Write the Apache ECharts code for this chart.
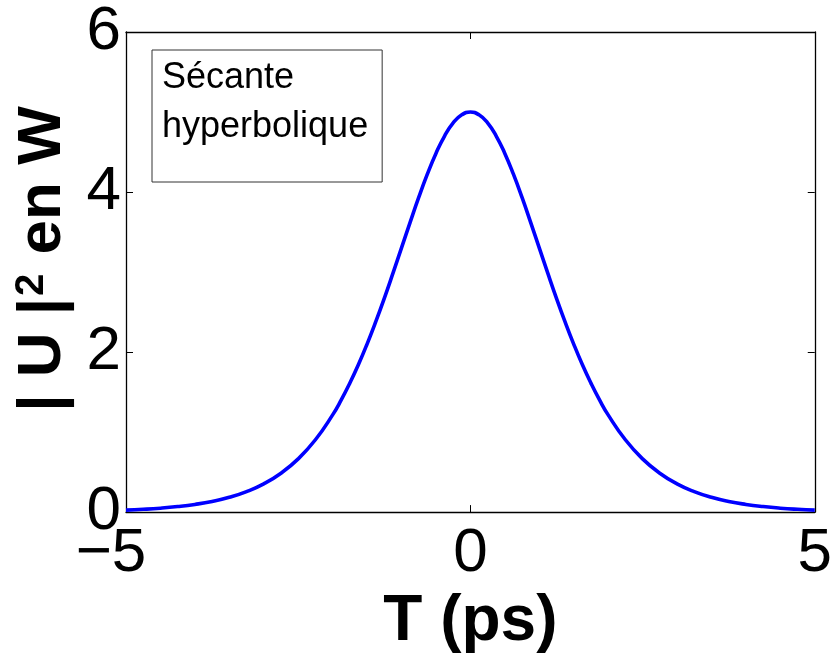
<!DOCTYPE html>
<html>
<head>
<meta charset="utf-8">
<script src="https://cdn.jsdelivr.net/npm/echarts@6/dist/echarts.min.js"></script>
<style>
html,body{margin:0;padding:0;background:#fff;overflow:hidden;}
#main{width:835px;height:659px;}
</style>
</head>
<body>
<div id="main"></div>
<script>
// Data
const timeValues = [-5, -4.75, -4.5, -4.25, -4, -3.75, -3.5, -3.25, -3, -2.75, -2.5, -2.25,
  -2, -1.875, -1.75, -1.625, -1.5, -1.375, -1.25, -1.125, -1, -0.875, -0.75, -0.625, -0.5, -0.375, -0.25, -0.125,
  0, 0.125, 0.25, 0.375, 0.5, 0.625, 0.75, 0.875, 1, 1.125, 1.25, 1.375, 1.5, 1.625, 1.75, 1.875, 2,
  2.25, 2.5, 2.75, 3, 3.25, 3.5, 3.75, 4, 4.25, 4.5, 4.75, 5];
const powerValues = [0.025, 0.035, 0.049, 0.069, 0.096, 0.133, 0.185, 0.256, 0.353, 0.486, 0.665, 0.904,
  1.215, 1.402, 1.612, 1.844, 2.100, 2.377, 2.672, 2.983, 3.302, 3.621, 3.932, 4.223, 4.483, 4.700, 4.864, 4.965,
  5.000, 4.965, 4.864, 4.700, 4.483, 4.223, 3.932, 3.621, 3.302, 2.983, 2.672, 2.377, 2.100, 1.844, 1.612, 1.402, 1.215,
  0.904, 0.665, 0.486, 0.353, 0.256, 0.185, 0.133, 0.096, 0.069, 0.049, 0.035, 0.025];
const xTickLabels = [-5, 0, 5];
const yTickLabels = [0, 2, 4, 6];
const seriesName = 'Sécante hyperbolique';

const chart = echarts.init(document.getElementById('main'), null, {renderer: 'canvas', width: 835, height: 659});
const tickFont = 'Liberation Sans, Arial, sans-serif';
const titleFont = 'Liberation Sans, Arial, sans-serif';

const data = timeValues.map((t, i) => [t, powerValues[i]]);

const xBase = {
  type: 'value', min: xTickLabels[0], max: xTickLabels[xTickLabels.length - 1], interval: 5,
  axisLine: {show: true, onZero: false, lineStyle: {color: '#000', width: 1.3}},
  axisTick: {show: true, inside: true, length: 7, lineStyle: {color: '#000', width: 1}},
  splitLine: {show: false}
};
const yBase = {
  type: 'value', min: yTickLabels[0], max: yTickLabels[yTickLabels.length - 1], interval: 2,
  axisLine: {show: true, onZero: false, lineStyle: {color: '#000', width: 1.3}},
  axisTick: {show: true, inside: true, length: 7, lineStyle: {color: '#000', width: 1}},
  splitLine: {show: false}
};

chart.setOption({
  animation: false,
  backgroundColor: '#fff',
  grid: {left: 126, right: 14, top: 32, bottom: 134, containLabel: false},
  legend: {
    show: true,
    data: [seriesName],
    left: 152, top: 50,
    orient: 'vertical',
    itemWidth: 0, itemHeight: 0,
    icon: 'none',
    backgroundColor: '#fff',
    borderColor: '#333',
    borderWidth: 1,
    borderRadius: 0,
    padding: [4, 14, 30, 5],
    formatter: () => 'Sécante\nhyperbolique',
    textStyle: {fontFamily: 'Liberation Sans, Arial, sans-serif', fontSize: 36, color: '#000', lineHeight: 49}
  },
  xAxis: [
    Object.assign({}, xBase, {
      position: 'bottom',
      name: 'T (ps)', nameLocation: 'middle', nameGap: 64,
      nameTextStyle: {fontFamily: titleFont, fontWeight: 'bold', fontSize: 64, color: '#000'},
      axisLabel: {
        show: true, margin: 11, color: '#000', fontFamily: tickFont, fontSize: 62,
        formatter: v => v < 0 ? '{m|\u2212' + Math.abs(v) + '}' : String(v),
        rich: {m: {fontFamily: tickFont, fontSize: 62, color: '#000', padding: [0, 30, 0, 0]}}
      }
    }),
    Object.assign({}, xBase, {position: 'top', axisLabel: {show: false}})
  ],
  yAxis: [
    Object.assign({}, yBase, {
      position: 'left',
      name: '{b|| U |}{s|2}{b| en W}', nameLocation: 'middle', nameGap: 31, nameRotate: 90,
      nameTextStyle: {
        fontFamily: titleFont, fontWeight: 'bold', fontSize: 62, color: '#000',
        padding: [0, 0, 0, 26],
        rich: {
          b: {fontFamily: titleFont, fontWeight: 'bold', fontSize: 62, color: '#000', lineHeight: 62},
          s: {fontFamily: titleFont, fontWeight: 'bold', fontSize: 40, color: '#000', lineHeight: 62, verticalAlign: 'top', padding: [0, 2, 24, 2]}
        }
      },
      axisLabel: {show: true, margin: 5, color: '#000', fontFamily: tickFont, fontSize: 62}
    }),
    Object.assign({}, yBase, {position: 'right', axisLabel: {show: false}})
  ],
  series: [{
    name: seriesName,
    type: 'line',
    xAxisIndex: 0, yAxisIndex: 0,
    data: data,
    smooth: true,
    showSymbol: false,
    symbol: 'none',
    lineStyle: {color: '#0000ff', width: 3.6},
    itemStyle: {color: '#0000ff'},
    clip: true
  }]
});
</script>
</body>
</html>
